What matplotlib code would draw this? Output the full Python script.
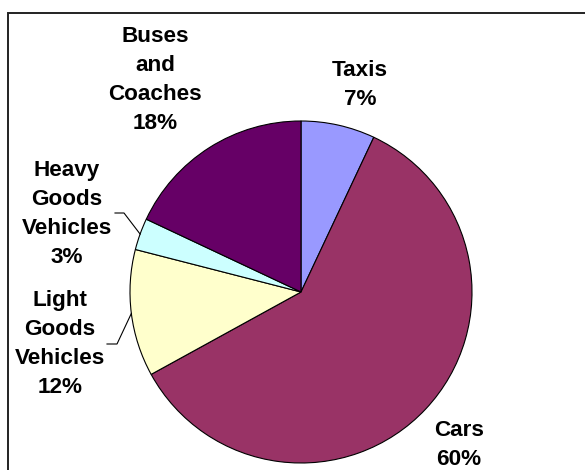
import matplotlib
matplotlib.use("Agg")
import numpy as np
import matplotlib.pyplot as plt

# Share of traffic by vehicle type (clockwise from the top)
categories = ["Taxis", "Cars", "Light\nGoods\nVehicles", "Heavy\nGoods\nVehicles", "Buses\nand\nCoaches"]
shares = [7, 60, 12, 3, 18]
colours = ["#9999FF", "#993366", "#FFFFCC", "#CCFFFF", "#660066"]

# where each label block sits (pixels from top-left) and which ones get a leader line
label_pos = [(360, 85), (459, 445), (60, 344), (67, 214), (155, 80)]
leader_knee = [None, None, (117, 344), (124, 213)]
leader_end = [None, None, (107, 344), (115, 213)]

W, H = 585, 470
fig = plt.figure(figsize=(W / 100, H / 100), dpi=100)
ax = fig.add_axes([0, 0, 1, 1])

cx, cy, r = 301, H - 292, 171
wedges, _ = ax.pie(shares, colors=colours, startangle=90, counterclock=False,
                   center=(cx, cy), radius=r, frame=True,
                   wedgeprops=dict(edgecolor="black", linewidth=0.8))
ax.set_xlim(0, W)
ax.set_ylim(0, H)
ax.set_aspect("equal")
ax.axis("off")

for i, (name, val) in enumerate(zip(categories, shares)):
    x, y = label_pos[i]
    ax.text(x, H - y, f"{name}\n{val}%", ha="center", va="center",
            fontsize=16.2, fontweight="bold", linespacing=1.5,
            family=["Liberation Sans", "DejaVu Sans"])
    if i < len(leader_knee) and leader_knee[i] is not None:
        w = wedges[i]
        mid = np.deg2rad((w.theta1 + w.theta2) / 2)
        ex, ey = cx + r * np.cos(mid), cy + r * np.sin(mid)
        kx, ky = leader_knee[i]
        sx, sy = leader_end[i]
        ax.plot([ex, kx, sx], [ey, H - ky, H - sy], color="black", lw=0.8)

# chart area border (only left and top edges fall inside the picture)
ax.plot([8, 8, W + 20], [-20, H - 13, H - 13], color="#222222", lw=1.4,
        solid_joinstyle="miter")

fig.savefig("out.png", dpi=100)
